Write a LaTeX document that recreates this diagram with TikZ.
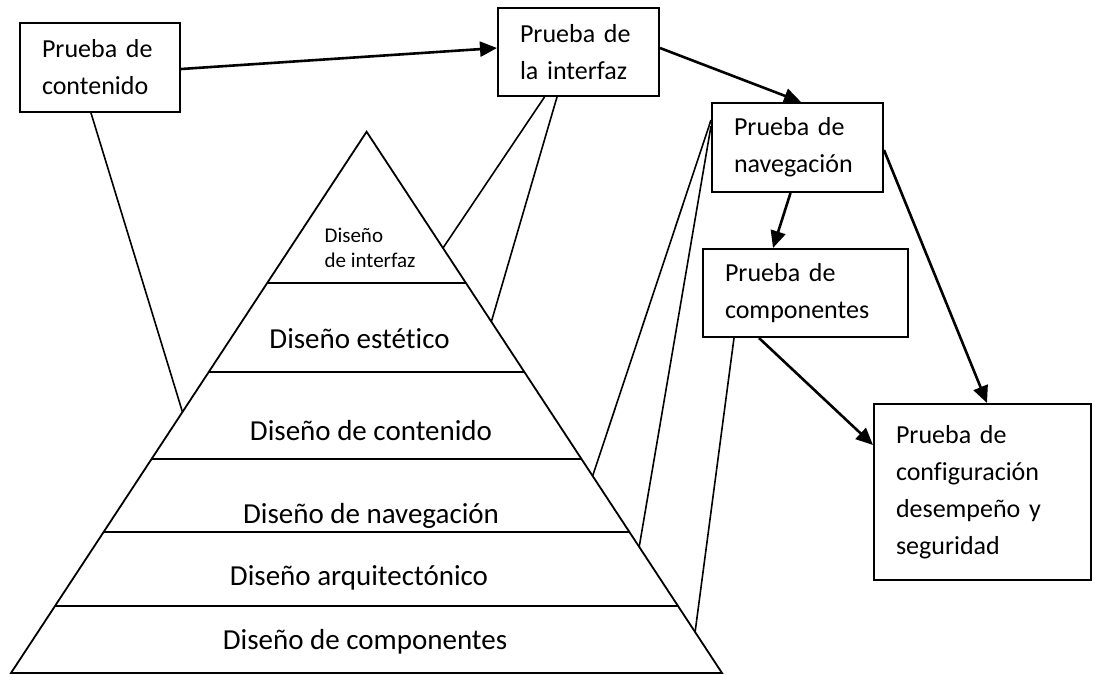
\documentclass[tikz,border=0pt]{standalone}
\usepackage{fontspec}
\setmainfont{Carlito}[Ligatures=NoCommon]
\usetikzlibrary{arrows.meta,calc}
\begin{document}
\begin{tikzpicture}[x=0.5pt,y=-0.5pt,
  box/.style={draw,line width=1pt,rectangle,inner xsep=11pt,inner ysep=0pt,align=left,
              font=\fontsize{13pt}{18.5pt}\selectfont},
  arr/.style={line width=1.3pt,-{Triangle[length=8.5pt,width=7.5pt]}},
  link/.style={line width=0.8pt},
  pyr/.style={line width=0.9pt},
  lay/.style={font=\fontsize{14.5pt}{17pt}\selectfont,inner sep=0pt,anchor=base},
  small/.style={font=\fontsize{10.5pt}{12.5pt}\selectfont,inner sep=0pt,align=left}]
\useasboundingbox (0,0) rectangle (1094,675);

% boxes
\node[box,text width=58pt,minimum height=44.5pt] (cont) at (100,67.5) {Prueba de\\contenido};
\node[box,text width=58.5pt,minimum height=44pt] (intf) at (578.5,52) {Prueba de\\la interfaz};
\node[box,text width=63.5pt,minimum height=44.5pt] (nav) at (797.5,147.5) {Prueba de\\navegación};
\node[box,text width=80.5pt,minimum height=44pt] (comp) at (805.5,293) {Prueba de\\componentes};
\node[box,text width=86.5pt,minimum height=88pt] (conf) at (982.5,492) {Prueba de\\configuración\\desempeño y\\seguridad};

% pyramid
\coordinate (apex) at (366.6,131.7);
\coordinate (bl) at (11,673);
\coordinate (br) at (722,673);
\draw[pyr] (apex) -- (bl) -- (br) -- cycle;
\foreach \t in {0.279,0.4439,0.6047,0.7395,0.8762}
  \draw[pyr] ($(apex)!\t!(bl)$) -- ($(apex)!\t!(br)$);

% layer labels
\node[small] (l1) at (370,247.5) {Diseño\\de interfaz};
\node[lay] (l2) at (359.5,348) {Diseño estético};
\node[lay] (l3) at (371,440) {Diseño de contenido};
\node[lay] (l4) at (371,523) {Diseño de navegación};
\node[lay] (l5) at (359,585) {Diseño arquitectónico};
\node[lay] (l6) at (365,649) {Diseño de componentes};

% arrows
\draw[arr] ($(cont.east)+(0,1.5)$) -- ($(intf.west)+(0,-4)$);
\draw[arr] ($(intf.east)+(0,-4)$) -- ($(nav.north)+(3.5,0)$);
\draw[arr] ($(nav.south)+(-7,0)$) -- ($(comp.north)+(-32.5,0)$);
\draw[arr] ($(nav.east)+(0,2.5)$) -- ($(conf.north)+(4.5,0)$);
\draw[arr] ($(comp.south)+(-46.5,0)$) -- ($(conf.west)+(0,-47)$);

% links to the pyramid
\coordinate (p1) at ($(apex)!0.5178!(bl)$);
\coordinate (p2) at ($(apex)!0.2149!(br)$);
\coordinate (p3) at ($(apex)!0.351!(br)$);
\coordinate (p4) at ($(apex)!0.636!(br)$);
\coordinate (p5) at ($(apex)!0.767!(br)$);
\coordinate (p6) at ($(apex)!0.9243!(br)$);
\draw[link] ($(cont.south)+(-9,0)$) -- (p1);
\draw[link] ($(intf.south)+(-34,0)$) -- (p2);
\draw[link] ($(intf.south)+(-21.5,0)$) -- (p3);
\draw[link] ($(nav.west)+(0,-27.5)$) -- (p4);
\draw[link] ($(nav.west)+(0,-21.5)$) -- (p5);
\draw[link] ($(comp.south)+(-71.5,0)$) -- (p6);
\end{tikzpicture}
\end{document}
